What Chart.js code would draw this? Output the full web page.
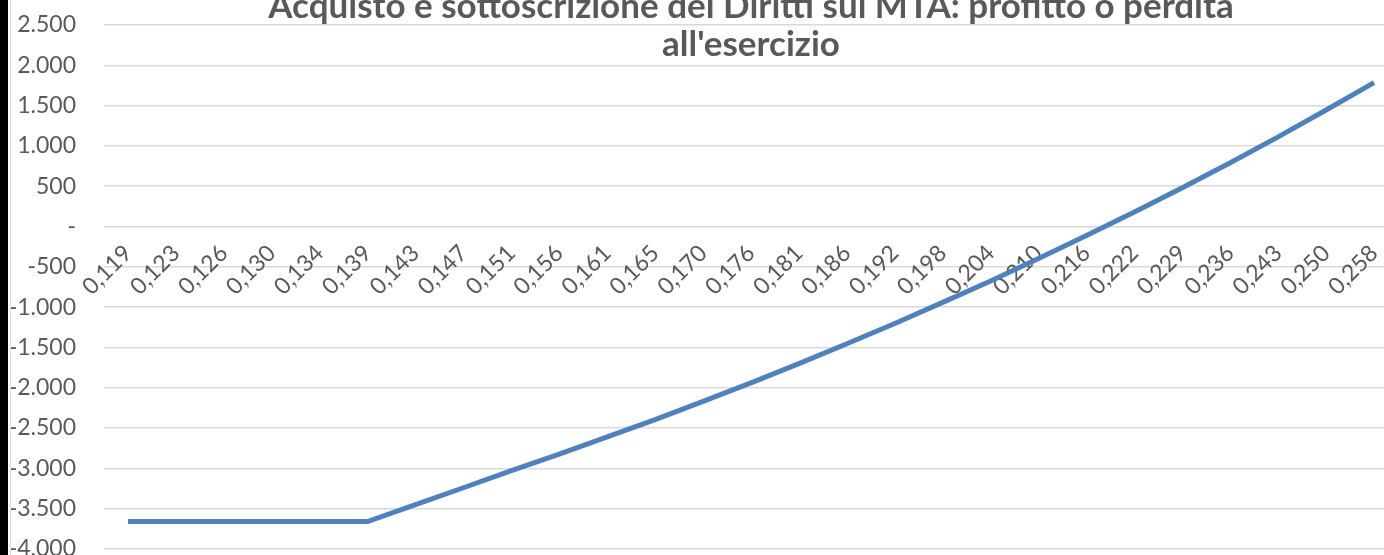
<!DOCTYPE html>
<html>
<head>
<meta charset="utf-8">
<script src="https://cdn.jsdelivr.net/npm/chart.js@4.4.0/dist/chart.umd.min.js"></script>
<style>
  html, body { margin: 0; padding: 0; background: #fff; overflow: hidden; width: 1384px; height: 555px; }
  #strip { position: absolute; left: 0; top: 0; width: 8px; height: 555px; background: #000; }
  #frame { position: absolute; left: 10px; top: 0; width: 1px; height: 555px; background: #d9d9d9; }
  #box { position: absolute; left: 11px; top: 0; width: 1400px; height: 580px; }
  #title {
    position: absolute; left: 104px; width: 1294px; top: -15.5px;
    text-align: center; font: bold 35px Lato, sans-serif; line-height: 38px; color: #595959;
  }
</style>
</head>
<body>
<div id="strip"></div>
<div id="frame"></div>
<div id="box"><canvas id="myChart"></canvas></div>
<div id="title">Acquisto e sottoscrizione dei Diritti sul MTA: profitto o perdita<br>all'esercizio</div>
<script>
// prezzo del titolo (etichette asse x)
const labels = ["0,119", "0,123", "0,126", "0,130", "0,134", "0,139", "0,143", "0,147", "0,151",
    "0,156", "0,161", "0,165", "0,170", "0,176", "0,181", "0,186", "0,192", "0,198", "0,204",
    "0,210", "0,216", "0,222", "0,229", "0,236", "0,243", "0,250", "0,258"];

// profitto o perdita
const profitto = [-3660, -3660, -3660, -3660, -3660, -3660, -3450, -3240, -3028,
    -2822, -2610, -2394, -2169, -1940, -1701, -1454, -1202, -941, -675,
    -396, -112, 180, 482, 792, 1112, 1445, 1786];

const yMin = -4000;
const yMax = 2500;
const yStep = 500;

const fmt = (v) => {
    if (v === 0) return "-";
    const s = Math.abs(v).toString().replace(/\B(?=(\d{3})+(?!\d))/g, ".");
    return (v < 0 ? "-" : "") + s;
};

// no extra padding from the axes, the layout padding places the plot
const noPad = (scale) => {
    scale.paddingTop = 0;
    scale.paddingBottom = 0;
    scale.paddingLeft = 0;
    scale.paddingRight = 0;
};

const ctx = document.getElementById("myChart").getContext("2d");
new Chart(ctx, {
    type: "line",
    data: {
        labels: labels,
        datasets: [{
            label: "Profitto",
            data: profitto,
            borderColor: "#4F81BD",
            borderWidth: 5,
            pointRadius: 0,
            tension: 0,
            fill: false
        }]
    },
    options: {
        responsive: true,
        maintainAspectRatio: false,
        animation: false,
        layout: { padding: { top: 25, bottom: 31, left: 0, right: 13 } },
        plugins: { legend: { display: false }, title: { display: false }, tooltip: { enabled: false } },
        scales: {
            x: {
                type: "category",
                position: { y: 0 },
                offset: true,
                grid: { display: false, drawTicks: false },
                border: { display: false },
                ticks: {
                    autoSkip: false,
                    minRotation: 45,
                    maxRotation: 45,
                    padding: 13,
                    color: "#595959",
                    font: { family: "Lato", size: 23 }
                },
                afterFit: (scale) => { scale.height = 0; noPad(scale); }
            },
            y: {
                min: yMin,
                max: yMax,
                grid: { color: "#d9d9d9", lineWidth: 1.5, drawTicks: false },
                border: { display: false },
                ticks: {
                    stepSize: yStep,
                    padding: 28,
                    color: "#595959",
                    font: { family: "Lato", size: 23 },
                    callback: (v) => fmt(v)
                },
                afterFit: (scale) => { scale.width = 93; noPad(scale); }
            }
        }
    }
});
</script>
</body>
</html>
